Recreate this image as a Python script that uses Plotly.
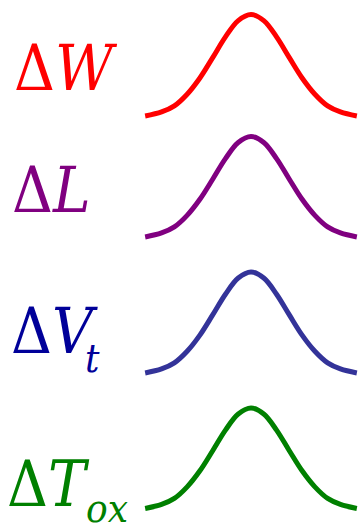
import plotly.graph_objects as go

# Bell-curve profile (x in units of sigma, relative height), symmetric about 0
profile_x = [-2.9, -2.45, -2.1, -1.75, -1.4, -1.05, -0.7, -0.35, 0.0,
             0.35, 0.7, 1.05, 1.4, 1.75, 2.1, 2.45, 2.9]
profile_y = [0.0, 0.04, 0.10, 0.215, 0.375, 0.575, 0.78, 0.94, 1.0,
             0.94, 0.78, 0.575, 0.375, 0.215, 0.10, 0.04, 0.0]

# Parameter names (main symbol, subscript) and colours
symbols = ["W", "L", "V", "T"]
subscripts = ["", "", "t", "ox"]
curve_colors = ["#ff0000", "#800080", "#333399", "#008000"]
text_colors = ["#ff0000", "#800080", "#000099", "#008000"]

SERIF = "DejaVu Serif Condensed, DejaVu Serif"

W, H = 359, 524
# Pixel rows: (baseline, peak) of each curve
rows = [(116, 14.5), (237, 136.5), (373, 272), (508.5, 408)]
PAD = 0.1  # extra y range so the stroke is not clipped

fig = go.Figure()
layout = dict(
    width=W, height=H,
    margin=dict(l=0, r=0, t=0, b=0),
    paper_bgcolor="white", plot_bgcolor="rgba(0,0,0,0)",
    showlegend=False,
    font=dict(family=SERIF),
    xaxis=dict(range=[-251 / 36.5, 108 / 36.5], domain=[0, 1],
               visible=False, fixedrange=True),
)

annotations = []
for i, (base, peak) in enumerate(rows):
    axname = "yaxis" if i == 0 else f"yaxis{i + 1}"
    yref = "y" if i == 0 else f"y{i + 1}"
    scale = base - peak
    bottom_px = base + PAD * scale
    top_px = peak - PAD * scale
    layout[axname] = dict(
        range=[-PAD, 1 + PAD],
        domain=[1 - bottom_px / H, 1 - top_px / H],
        anchor="x", visible=False, fixedrange=True,
    )
    fig.add_trace(go.Scatter(
        x=profile_x, y=profile_y, xaxis="x", yaxis=yref,
        mode="lines", line=dict(color=curve_colors[i], width=5,
                                shape="spline", smoothing=1.0),
        hoverinfo="skip",
    ))

# Label geometry (left edge px, cap-centre px) for main symbols and subscripts
label_pos = [(12, 69), (10, 190), (9, 331), (5, 484)]
sub_pos = [None, None, (83, 358), (84, 508)]
for i, sym in enumerate(symbols):
    lx, ly = label_pos[i]
    annotations.append(dict(
        text=f"Δ<i>{sym}</i>", x=lx / W, y=1 - ly / H,
        xref="paper", yref="paper", xanchor="left", yanchor="middle",
        showarrow=False,
        font=dict(family=SERIF, size=63, color=text_colors[i]),
    ))
    if subscripts[i]:
        sx, sy = sub_pos[i]
        annotations.append(dict(
            text=f"<i>{subscripts[i]}</i>", x=sx / W, y=1 - sy / H,
            xref="paper", yref="paper", xanchor="left", yanchor="middle",
            showarrow=False,
            font=dict(family=SERIF, size=40, color=text_colors[i]),
        ))

layout["annotations"] = annotations
fig.update_layout(**layout)
fig.write_html("out.html", config={"displayModeBar": False})
